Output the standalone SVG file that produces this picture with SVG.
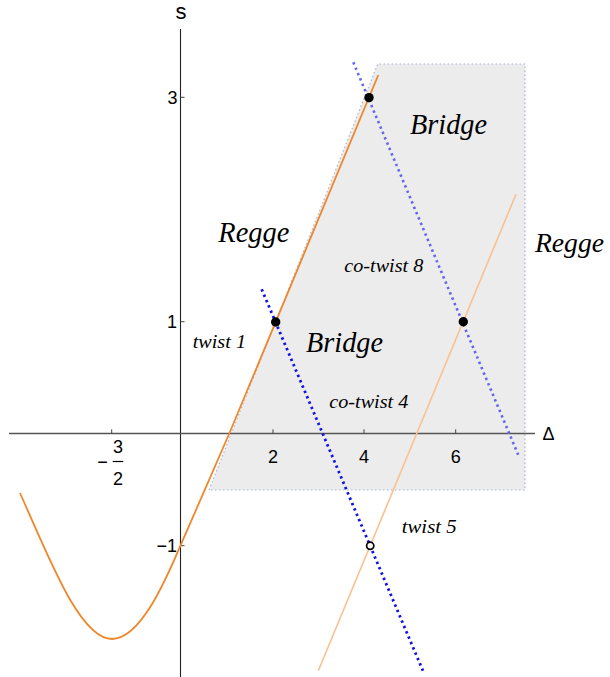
<svg xmlns="http://www.w3.org/2000/svg" width="610" height="677" viewBox="0 0 610 677">
<style>
.ax{stroke:#222;stroke-width:1.1;fill:none}
.xax{stroke:#555;stroke-width:1.4;fill:none}
.tk{stroke:#444;stroke-width:1;fill:none}
.num{font-family:"Liberation Sans",Arial,sans-serif;font-size:18px;fill:#000}
.big{font-family:"Liberation Serif","Times New Roman",serif;font-style:italic;font-size:29px;fill:#000}
.sm{font-family:"Liberation Serif","Times New Roman",serif;font-style:italic;font-size:19.5px;fill:#000}
.dot{fill:#000}
</style>
<rect width="610" height="677" fill="#fff"/>
<g id="region">
<polygon points="209,490 377.7,64 525,64 525,490" fill="#ececec" stroke="#a9b5d8" stroke-width="1.2" stroke-dasharray="1.5 2.5"/>
</g>
<g id="axes">
<line class="ax" x1="180.5" y1="29" x2="180.5" y2="677"/>
<line class="xax" x1="9" y1="433.5" x2="535" y2="433.5"/>
<line class="tk" x1="180.5" y1="97.3" x2="184.5" y2="97.3"/>
<line class="tk" x1="180.5" y1="321.7" x2="184.5" y2="321.7"/>
<line class="tk" x1="180.5" y1="545.7" x2="184.5" y2="545.7"/>
<line class="tk" x1="111.7" y1="433.5" x2="111.7" y2="429.3"/>
<line class="tk" x1="273" y1="433.5" x2="273" y2="429.3"/>
<line class="tk" x1="364" y1="433.5" x2="364" y2="429.3"/>
<line class="tk" x1="455.7" y1="433.5" x2="455.7" y2="429.3"/>
<text class="num" x="181" y="19" text-anchor="middle" style="font-size:22px">s</text>
<text class="num" x="542.5" y="440">Δ</text>
<text class="num" x="177.5" y="103.5" text-anchor="end">3</text>
<text class="num" x="177" y="328" text-anchor="end">1</text>
<text class="num" x="177" y="552" text-anchor="end">−1</text>
<text class="num" x="273" y="463" text-anchor="middle">2</text>
<text class="num" x="364" y="463" text-anchor="middle">4</text>
<text class="num" x="455.7" y="463" text-anchor="middle">6</text>
<text class="num" x="102.5" y="467.5" text-anchor="middle">−</text>
<text class="num" x="118" y="453" text-anchor="middle">3</text>
<line x1="112.7" y1="461.5" x2="123.3" y2="461.5" stroke="#000" stroke-width="1.2"/>
<text class="num" x="118" y="485" text-anchor="middle">2</text>
</g>
<g id="connectors">
<path id="traj" d="M20,493 C50,560 80,639 112,639 C140,639 165,582 180,546.7 L229.3,433.5 L378.3,75" fill="none" stroke="#f0862a" stroke-width="1.8"/>
<line id="traj2" x1="318.3" y1="670.7" x2="516" y2="194.3" stroke="#f9c190" stroke-width="1.6"/>
<line id="cotwistA" x1="261.7" y1="289.3" x2="424" y2="673.3" stroke="#1010e8" stroke-width="2.8" stroke-dasharray="2.4 3.4"/>
<line id="cotwistB" x1="353.3" y1="62.3" x2="519" y2="456.7" stroke="#6464f2" stroke-width="2.6" stroke-dasharray="2.4 3.4"/>
</g>
<g id="points">
<circle class="dot" cx="275.7" cy="322" r="4.7"/>
<circle class="dot" cx="369" cy="97.6" r="4.7"/>
<circle class="dot" cx="463.3" cy="321.7" r="4.7"/>
<circle cx="370.2" cy="545.8" r="3.6" fill="#fff" stroke="#000" stroke-width="1.7"/>
</g>
<g id="labels">
<text class="big" x="410" y="133.5" textLength="77" lengthAdjust="spacingAndGlyphs">Bridge</text>
<text class="big" x="306" y="352" textLength="77" lengthAdjust="spacingAndGlyphs">Bridge</text>
<text class="big" x="218.3" y="241.7" textLength="71" lengthAdjust="spacingAndGlyphs">Regge</text>
<text class="big" x="535" y="251.7" style="font-size:28px" textLength="69" lengthAdjust="spacingAndGlyphs">Regge</text>
<text class="sm" x="344.3" y="272.3" textLength="79" lengthAdjust="spacingAndGlyphs">co-twist 8</text>
<text class="sm" x="329.3" y="407.7" textLength="79" lengthAdjust="spacingAndGlyphs">co-twist 4</text>
<text class="sm" x="192.7" y="348.3" textLength="53.3" lengthAdjust="spacingAndGlyphs">twist 1</text>
<text class="sm" x="401.7" y="533.3" textLength="55" lengthAdjust="spacingAndGlyphs">twist 5</text>
</g>
</svg>
